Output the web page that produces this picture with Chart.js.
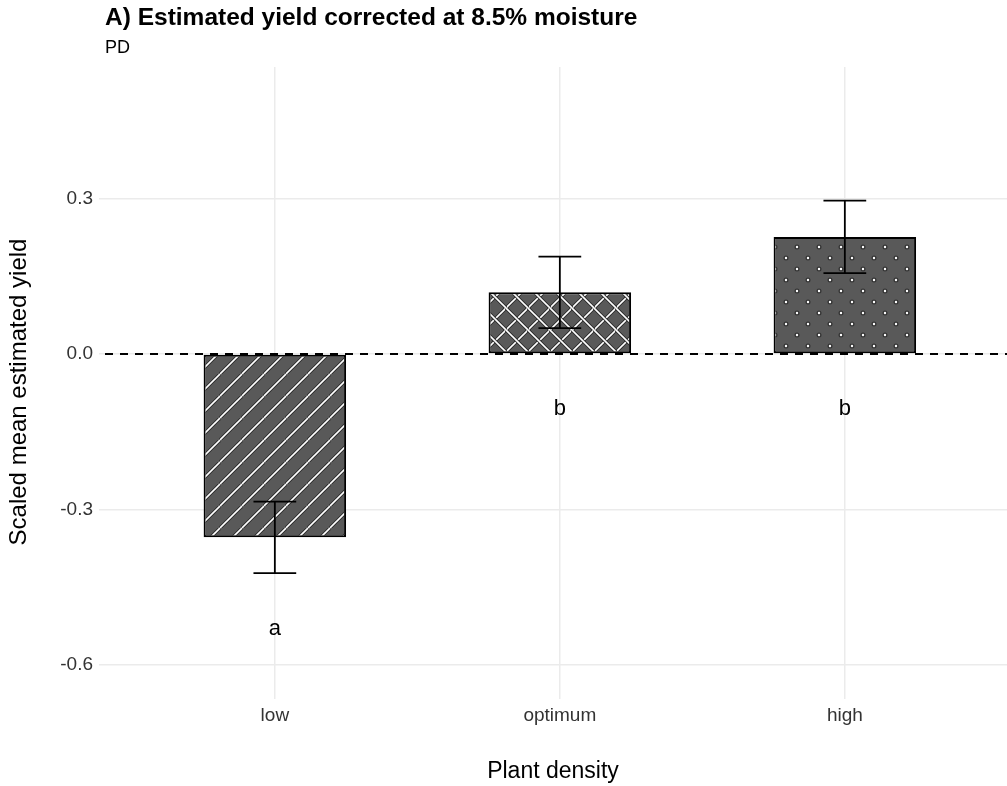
<!DOCTYPE html>
<html>
<head>
<meta charset="utf-8">
<title>Estimated yield</title>
<script src="https://cdn.jsdelivr.net/npm/chart.js@4.4.0/dist/chart.umd.min.js"></script>
<style>
  html, body { margin: 0; padding: 0; background: #fff; }
  #wrap { width: 1007px; height: 786px; }
</style>
</head>
<body>
<div id="wrap"><canvas id="grafico" width="1007" height="786"></canvas></div>
<script>
// Dados
const categorias = ['low', 'optimum', 'high'];
const medias = [-0.354, 0.119, 0.226];
const erros = [0.069, 0.069, 0.070];
const letras = ['a', 'b', 'b'];
const yTicks = [-0.6, -0.3, 0.0, 0.3];

const FONTE = '"Liberation Sans", Arial, Helvetica, sans-serif';
const CINZA = '#595959';

// Padrões de preenchimento das barras
function novoTile() {
  const c = document.createElement('canvas');
  c.width = 22; c.height = 22;
  const g = c.getContext('2d');
  g.fillStyle = CINZA;
  g.fillRect(0, 0, 22, 22);
  return { c, g };
}

function tracar(g, segs) {
  g.lineCap = 'butt';
  g.strokeStyle = '#2b2b2b';
  g.lineWidth = 3.4;
  segs.forEach(s => { g.beginPath(); g.moveTo(s[0], s[1]); g.lineTo(s[2], s[3]); g.stroke(); });
  g.strokeStyle = '#ffffff';
  g.lineWidth = 1.6;
  segs.forEach(s => { g.beginPath(); g.moveTo(s[0], s[1]); g.lineTo(s[2], s[3]); g.stroke(); });
}

function padraoListras(ctx) {
  const { c, g } = novoTile();
  tracar(g, [[-22, 22, 0, 0], [0, 22, 22, 0], [22, 22, 44, 0]]);
  return ctx.createPattern(c, 'repeat');
}

function padraoXadrez(ctx) {
  const { c, g } = novoTile();
  tracar(g, [[-22, 22, 0, 0], [0, 22, 22, 0], [22, 22, 44, 0]]);
  tracar(g, [[-22, 0, 0, 22], [0, 0, 22, 22], [22, 0, 44, 22]]);
  return ctx.createPattern(c, 'repeat');
}

function padraoPontos(ctx) {
  const { c, g } = novoTile();
  [[5, 5], [16, 16]].forEach(p => {
    g.fillStyle = '#333333';
    g.beginPath(); g.arc(p[0], p[1], 2.5, 0, Math.PI * 2); g.fill();
    g.fillStyle = '#ffffff';
    g.beginPath(); g.arc(p[0], p[1], 1.2, 0, Math.PI * 2); g.fill();
  });
  return ctx.createPattern(c, 'repeat');
}

// Plugin: linha tracejada no zero, barras de erro, letras e títulos
const extras = {
  id: 'extras',
  afterDatasetsDraw(chart) {
    const ctx = chart.ctx;
    const x = chart.scales.x;
    const y = chart.scales.y;
    const area = chart.chartArea;
    ctx.save();

    // linha tracejada em y = 0
    ctx.strokeStyle = '#000';
    ctx.lineWidth = 1.8;
    ctx.setLineDash([8, 7]);
    ctx.beginPath();
    ctx.moveTo(area.left + 6, y.getPixelForValue(0));
    ctx.lineTo(area.right, y.getPixelForValue(0));
    ctx.stroke();
    ctx.setLineDash([]);

    // barras de erro
    ctx.lineWidth = 1.8;
    medias.forEach((m, i) => {
      const cx = x.getPixelForValue(i);
      const x1 = x.getPixelForValue(i - 0.075);
      const x2 = x.getPixelForValue(i + 0.075);
      const yAlto = y.getPixelForValue(m + erros[i]);
      const yBaixo = y.getPixelForValue(m - erros[i]);
      ctx.beginPath();
      ctx.moveTo(cx, yAlto); ctx.lineTo(cx, yBaixo);
      ctx.moveTo(x1, yAlto); ctx.lineTo(x2, yAlto);
      ctx.moveTo(x1, yBaixo); ctx.lineTo(x2, yBaixo);
      ctx.stroke();
    });

    // letras de significância
    ctx.fillStyle = '#000';
    ctx.font = '22px ' + FONTE;
    ctx.textAlign = 'center';
    ctx.textBaseline = 'middle';
    medias.forEach((m, i) => {
      const base = Math.min(0, m - erros[i]) - 0.107;
      ctx.fillText(letras[i], x.getPixelForValue(i), y.getPixelForValue(base));
    });

    // títulos
    ctx.textAlign = 'left';
    ctx.textBaseline = 'alphabetic';
    ctx.font = 'bold 24.5px ' + FONTE;
    ctx.fillText('A) Estimated yield corrected at 8.5% moisture', 105, 25);
    ctx.font = '18px ' + FONTE;
    ctx.fillText('PD', 105, 53);

    // títulos dos eixos
    ctx.font = '23px ' + FONTE;
    ctx.textAlign = 'center';
    ctx.fillText('Plant density', (area.left + area.right) / 2, 778);
    ctx.font = '24px ' + FONTE;
    ctx.translate(26, 392);
    ctx.rotate(-Math.PI / 2);
    ctx.fillText('Scaled mean estimated yield', 0, 0);

    ctx.restore();
  }
};

function criarGrafico() {
  const canvas = document.getElementById('grafico');
  const ctx = canvas.getContext('2d');

  new Chart(ctx, {
    type: 'bar',
    data: {
      datasets: [{
        data: categorias.map((c, i) => ({ x: i, y: medias[i] })),
        backgroundColor: [padraoListras(ctx), padraoXadrez(ctx), padraoPontos(ctx)],
        borderColor: '#000',
        borderWidth: 2,
        borderSkipped: false,
        barPercentage: 0.5,
        categoryPercentage: 1
      }]
    },
    options: {
      responsive: false,
      animation: false,
      devicePixelRatio: 1,
      layout: { padding: { top: 67, left: 0, right: 0, bottom: 0 } },
      plugins: {
        legend: { display: false },
        tooltip: { enabled: false }
      },
      scales: {
        x: {
          type: 'linear',
          min: -0.617,
          max: 2.569,
          offset: false,
          afterBuildTicks: s => { s.ticks = categorias.map((c, i) => ({ value: i })); },
          afterFit: s => { s.height = 87; },
          grid: { color: '#ebebeb', lineWidth: 1.5, drawTicks: false, offset: false },
          border: { display: false },
          ticks: {
            padding: 5,
            color: '#333',
            font: { family: FONTE, size: 19 },
            callback: v => categorias[v]
          }
        },
        y: {
          min: -0.666,
          max: 0.554,
          afterBuildTicks: s => { s.ticks = yTicks.map(v => ({ value: v })); },
          afterFit: s => { s.width = 99; },
          grid: { color: '#ebebeb', lineWidth: 1.5, drawTicks: false },
          border: { display: false },
          ticks: {
            padding: 6,
            color: '#333',
            font: { family: FONTE, size: 19 },
            callback: v => v.toFixed(1)
          }
        }
      }
    },
    plugins: [extras]
  });
}

window.addEventListener('load', criarGrafico);
</script>
</body>
</html>
